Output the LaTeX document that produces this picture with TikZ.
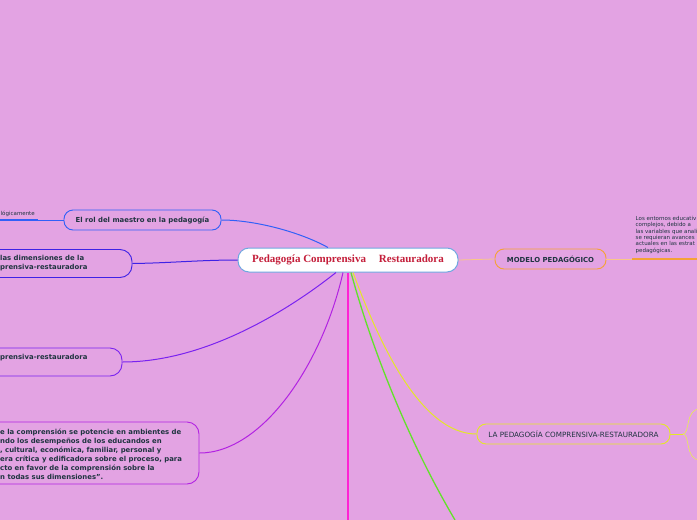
\documentclass[tikz,border=0pt]{standalone}
\usepackage{fontspec}
\newfontfamily\mapfont{DejaVu Sans}
\newfontfamily\rootfont{Liberation Serif}
\usepackage{tikz}
\usetikzlibrary{calc}
\usepackage{xcolor}

\definecolor{bgpink}{HTML}{E3A3E3}
\definecolor{inkdark}{HTML}{1F3440}
\definecolor{rootred}{HTML}{C41E3A}
\definecolor{rootblue}{HTML}{6FA8E0}
\definecolor{rolblue}{HTML}{3060F8}
\definecolor{dimindigo}{HTML}{3F22E6}
\definecolor{comviolet}{HTML}{7A22F0}
\definecolor{ambpurple}{HTML}{B222E2}
\definecolor{hotmagenta}{HTML}{FF22D4}
\definecolor{brightgreen}{HTML}{62E22A}
\definecolor{lemon}{HTML}{E4E826}
\definecolor{modorange}{HTML}{F5A236}

\begin{document}
\begin{tikzpicture}[x=1pt, y=-1pt,
    topic/.style={draw, line width=0.9pt, rounded corners=9pt, inner sep=0pt,
        minimum height=20pt, text=inkdark,
        font=\mapfont\bfseries\fontsize{6.9}{9}\selectfont},
    sidebox/.style={draw, line width=0.9pt, rounded corners=12pt, inner sep=0pt},
    sidetext/.style={anchor=west, inner sep=0pt, align=left, text=inkdark,
        font=\mapfont\bfseries\fontsize{6.9}{9}\selectfont},
    tinytext/.style={inner sep=0pt, align=left, text=inkdark,
        font=\mapfont\fontsize{5.5}{6.4}\selectfont},
    link/.style={line width=1pt}]

    % 1. Canvas and background
    \useasboundingbox (0,0) rectangle (697,520);
    \fill[bgpink] (0,0) rectangle (697,520);
    \clip (0,0) rectangle (697,520);

    % 2. The central idea
    \node[draw=rootblue, fill=white, line width=1pt, rounded corners=11pt,
          minimum width=220pt, minimum height=24pt, text=rootred,
          font=\rootfont\bfseries\fontsize{11}{13}\selectfont]
        (root) at (348,260) {Pedagogía Comprensiva\hspace{13pt}Restauradora};

    % 3. Left branches
    \node[topic, draw=rolblue, minimum width=157pt] (rol) at (142.5,220)
        {El rol del maestro en la pedagogía};
    \coordinate (rolend) at (38,220);
    \node[tinytext, anchor=south west] (roltext) at (0.5,217) {lógicamente};

    \node[sidebox, draw=dimindigo, minimum width=172pt, minimum height=28pt]
        (dims) at (46,263.5) {};
    \node[sidetext] (dimstext) at (0,263.5) {las dimensiones de la\\prensiva-restauradora};

    \node[sidebox, draw=comviolet, minimum width=162pt, minimum height=28pt]
        (comp) at (41,362) {};
    \node[sidetext] (comptext) at (0,358) {prensiva-restauradora};

    \node[sidebox, draw=ambpurple, minimum width=239pt, minimum height=62pt]
        (amb) at (79.5,453) {};
    \node[sidetext] (ambtext) at (0,454.5)
        {e la comprensión se potencie en ambientes de\\
         ndo los desempeños de los educandos en\\
         , cultural, económica, familiar, personal y\\
         era crítica y edificadora sobre el proceso, para\\
         cto en favor de la comprensión sobre la\\
         n todas sus dimensiones”.};

    % 4. Right branches
    \node[topic, draw=modorange, minimum width=111pt] (model) at (550.5,259)
        {MODELO PEDAGÓGICO};
    \coordinate (modelend) at (632,259);
    \node[tinytext, anchor=north west] (modeltext) at (635.5,216)
        {Los entornos educativ\\
         complejos, debido a\\
         las variables que anali\\
         se requieran avances\\
         actuales en las estrat\\
         pedagógicas.};

    \node[topic, draw=lemon, minimum width=193pt,
          font=\mapfont\fontsize{7.2}{9}\selectfont] (lapeda) at (573.5,434)
        {LA PEDAGOGÍA COMPRENSIVA-RESTAURADORA};
    \coordinate (fork) at (683,434);

    % 5. Connectors from the central idea
    \draw[link, rolblue] ([xshift=-20pt]root.north) .. controls (300,232) and (255,220) .. (rol.east);
    \draw[link, rolblue, line width=0.6pt] (rol.west) -- (rolend);
    \draw[rolblue, line width=1.5pt] (rolend) -- (0,220);

    \draw[link, dimindigo] (root.west) .. controls (200,260) and (170,263) .. (dims.east);
    \draw[link, comviolet] ([xshift=-12pt]root.south) .. controls (295,305) and (210,362) .. (comp.east);
    \draw[link, ambpurple] ([xshift=-5pt]root.south) .. controls (322,365) and (262,453) .. (amb.east);

    \draw[link, hotmagenta, line width=1.4pt] (root.south) -- (348,520);
    \draw[link, brightgreen, line width=1.3pt] ([xshift=3pt]root.south) .. controls (368,335) and (402,430) .. (455,520);
    \draw[link, lemon] ([xshift=5pt]root.south) .. controls (378,340) and (420,434) .. (lapeda.west);

    \draw[modorange!60, line width=0.8pt] (root.east) -- (model.west);
    \draw[modorange!60, line width=0.8pt] (model.east) -- (modelend);
    \draw[modorange, line width=1.6pt] (modelend) -- (697,259);

    % 6. The fork on the right
    \draw[lemon, line width=0.7pt] (lapeda.east) -- (fork);
    \draw[lemon!80!white, line width=0.6pt] (fork) .. controls (690,434) and (685,409) .. (700,409);
    \draw[lemon!80!white, line width=0.6pt] (fork) .. controls (690,434) and (685,460) .. (700,460);

\end{tikzpicture}
\end{document}
